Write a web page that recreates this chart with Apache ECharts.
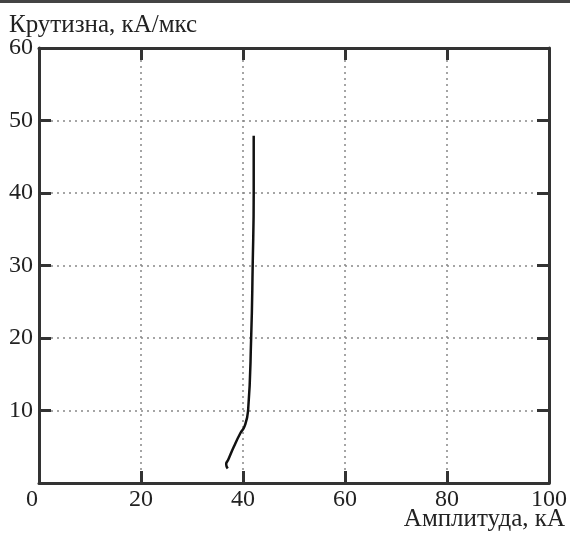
<!DOCTYPE html>
<html><head><meta charset="utf-8">
<script src="https://cdn.jsdelivr.net/npm/echarts@6/dist/echarts.min.js"></script>
<style>html,body{margin:0;padding:0;background:#fff}#c{width:570px;height:533px}</style>
</head><body><div id="c"></div>
<script>
const xTicks = [0, 20, 40, 60, 80, 100];
const yTicks = [0, 10, 20, 30, 40, 50, 60];
const amplitude = [37.0, 36.7, 37.1, 38.2, 39.5, 40.3, 41.0, 41.6, 41.9, 42.1, 42.1];
const steepness = [2.0, 2.6, 3.2, 5.0, 6.9, 7.8, 10, 20, 30, 40, 47.9];
const titleText = 'Крутизна, кА/мкс';
const xName = 'Амплитуда, кА';

const font = '"Liberation Serif", "DejaVu Serif", serif';
const dark = '#333';
const chart = echarts.init(document.getElementById('c'));
const lineAxis = {onZero: false, lineStyle: {color: dark, width: 3}};
const tick = {inside: true, length: 12, lineStyle: {color: dark, width: 3}};
const split = {show: true, lineStyle: {color: '#888', type: [2, 4], width: 1.5}};
chart.setOption({
  animation: false,
  title: {text: titleText, left: 4, top: 8, textStyle: {fontFamily: font, fontSize: 25, fontWeight: 'normal', color: '#222'}},
  graphic: [
    {type: 'rect', shape: {x: 0, y: 0, width: 570, height: 3}, style: {fill: '#444'}},
    {type: 'text', right: 5, bottom: 1, style: {text: xName, font: '25px ' + font, fill: '#222'}}
  ],
  grid: {left: 39, right: 20, top: 48, bottom: 50},
  xAxis: [
    {type: 'value', min: xTicks[0], max: xTicks[xTicks.length - 1], interval: 20, position: 'bottom',
     axisLine: lineAxis, axisTick: tick, splitLine: split,
     axisLabel: {fontFamily: font, fontSize: 24, color: '#222', margin: 5,
       formatter: v => v === 0 ? '{z|0}' : String(v),
       rich: {z: {fontFamily: font, fontSize: 24, color: '#222', padding: [0, 14, 0, 0]}}}},
    {type: 'value', min: xTicks[0], max: xTicks[xTicks.length - 1], interval: 20, position: 'top',
     axisLine: lineAxis, axisTick: tick, splitLine: {show: false}, axisLabel: {show: false}}
  ],
  yAxis: [
    {type: 'value', min: yTicks[0], max: yTicks[yTicks.length - 1], interval: 10, position: 'left',
     axisLine: lineAxis, axisTick: tick, splitLine: split,
     axisLabel: {fontFamily: font, fontSize: 24, color: '#222', margin: 6, showMinLabel: false}},
    {type: 'value', min: yTicks[0], max: yTicks[yTicks.length - 1], interval: 10, position: 'right',
     axisLine: lineAxis, axisTick: tick, splitLine: {show: false}, axisLabel: {show: false}}
  ],
  series: [{
    type: 'line', smooth: true, symbol: 'none',
    data: amplitude.map((a, i) => [a, steepness[i]]),
    lineStyle: {color: '#111', width: 2.5}
  }]
});
</script></body></html>
